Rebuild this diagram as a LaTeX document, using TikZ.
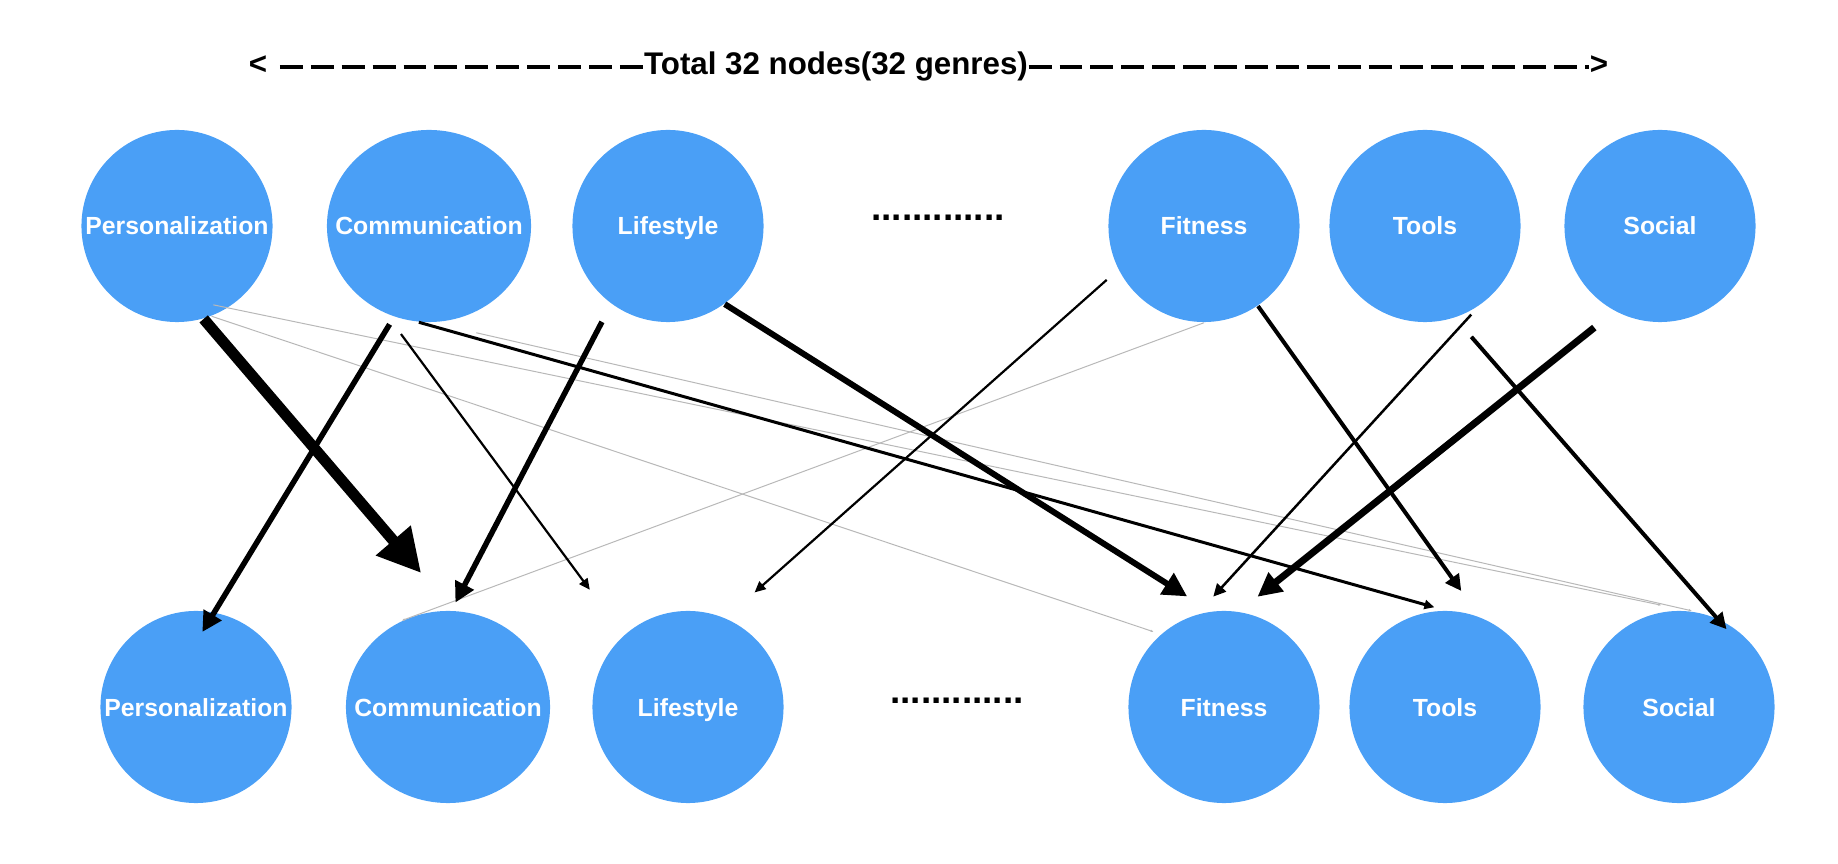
\documentclass[tikz,border=0pt]{standalone}
\usepackage{fontspec}
\setmainfont{Liberation Sans}
\usetikzlibrary{arrows.meta,shapes.geometric}

\begin{document}
\begin{tikzpicture}[x=0.01cm,y=-0.01cm,
  gen/.style={ellipse,fill=gblue,minimum width=1.91cm,minimum height=1.92cm,
              inner xsep=-0.4cm,inner ysep=0pt,text=white,
              text height=0.18cm,text depth=0cm,
              font=\bfseries\fontsize{7.05pt}{8pt}\selectfont},
  wide/.style={minimum width=2.04cm},
  hd/.style={font=\bfseries\fontsize{8.9pt}{10pt}\selectfont,inner sep=0pt,
             text height=0.23cm,text depth=0.07cm},
  dts/.style={font=\bfseries\fontsize{10.5pt}{12pt}\selectfont,inner sep=0pt},
  dsh/.style={line width=0.04cm,dash pattern=on 0.229cm off 0.08cm},
  wk/.style={black!28,line width=0.01cm,-{Stealth[length=0.03cm,width=0.025cm]}},
  e2/.style={line width=0.022cm,-{Triangle[length=0.11cm,width=0.10cm]}},
  e25/.style={line width=0.025cm,-{Triangle[length=0.125cm,width=0.12cm]}},
  e3/.style={line width=0.03cm,-{Triangle[length=0.10cm,width=0.09cm]}},
  e4/.style={line width=0.04cm,-{Triangle[length=0.16cm,width=0.16cm]}},
  e5/.style={line width=0.055cm,-{Triangle[length=0.20cm,width=0.20cm]}},
  e6/.style={line width=0.06cm,-{Triangle[length=0.24cm,width=0.24cm]}},
  e7/.style={line width=0.07cm,-{Triangle[length=0.24cm,width=0.23cm]}},
  e11/.style={line width=0.11cm,-{Triangle[length=0.43cm,width=0.43cm]}},
]
  \definecolor{gblue}{HTML}{4A9FF6}
  \useasboundingbox (0,0) rectangle (1838,864);

  % header
  \node[hd] (lt) at (258,67) {<};
  \node[hd] (ttl) at (836,67) {Total 32 nodes(32 genres)};
  \node[hd] (rt) at (1599,67) {>};
  \draw[dsh,shorten <=0.12cm] (lt) -- (ttl);
  \draw[dsh] (ttl) -- (rt);

  % top row (sources)
  \node[gen] (tP) at (177,226) {Personalization};
  \node[gen,wide] (tC) at (429,226) {Communication};
  \node[gen] (tL) at (668,226) {Lifestyle};
  \node[dts] (dotsT) at (938,218) {.............};
  \node[gen] (tF) at (1204,226) {Fitness};
  \node[gen] (tT) at (1425,226) {Tools};
  \node[gen] (tS) at (1660,226) {Social};

  % bottom row (targets)
  \node[gen] (bP) at (196,707) {Personalization};
  \node[gen,wide] (bC) at (448,707) {Communication};
  \node[gen] (bL) at (688,707) {Lifestyle};
  \node[dts] (dotsB) at (957,701) {.............};
  \node[gen] (bF) at (1224,707) {Fitness};
  \node[gen] (bT) at (1445,707) {Tools};
  \node[gen] (bS) at (1679,707) {Social};

  % weak transitions
  \draw[wk,shorten >=0.077cm] (tP.-69.3) -- (bF.131.7);
  \draw[wk,shorten <=-0.152cm,shorten >=0.27cm] (tP.-58.1) -- (bS.85.2);
  \draw[wk,shorten <=0.45cm,shorten >=0.043cm] (tC.-88.8) -- (bS.80);
  \draw[wk] (tF.-90) -- (bC.118);

  % transitions
  \draw[e11,shorten >=0.49cm] (tP.-74.6) -- (bC.87.6);
  \draw[e5,shorten <=0.086cm,shorten >=-0.233cm] (tC.-111.6) -- (bP.79.2);
  \draw[e2,shorten <=0.25cm,shorten >=0.565cm] (tC.-116.1) -- (bL.132.2);
  \draw[e3,shorten >=0.11cm] (tC.-96.5) -- (bT.north);
  \draw[e5,shorten <=0.2cm,shorten >=0.087cm] (tL.-126) -- (bC.88.7);
  \draw[e6,shorten >=0.276cm] (tL.-54.7) -- (bF.98.4);
  \draw[e2,shorten <=0.153cm,shorten >=0.385cm] (tF.-153.9) -- (bL.67.6);
  \draw[e4,shorten >=0.316cm] (tF.-56) -- (bT.69);
  \draw[e25,shorten <=0.115cm,shorten >=0.236cm] (tT.-56.8) -- (bF.106.1);
  \draw[e4,shorten <=0.25cm,shorten >=-0.148cm] (tT.-72.7) -- (bS.67.8);
  \draw[e7,shorten <=0.26cm,shorten >=0.234cm] (tS.-118.8) -- (bF.81.7);
\end{tikzpicture}
\end{document}
